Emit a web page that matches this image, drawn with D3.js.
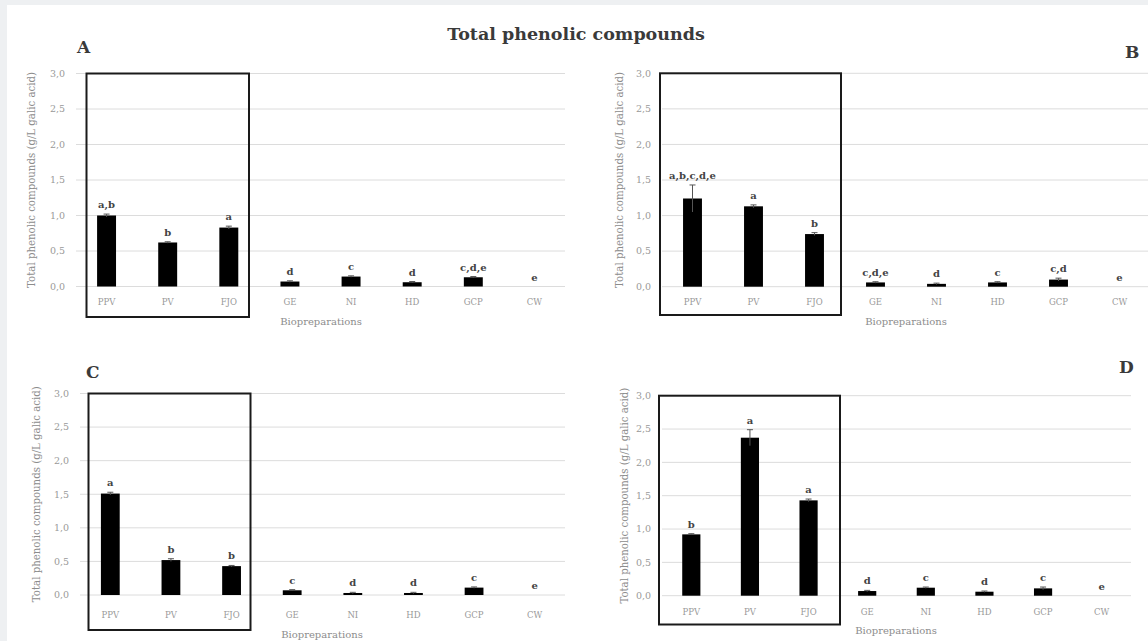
<!DOCTYPE html>
<html>
<head>
<meta charset="utf-8">
<script src="https://cdn.jsdelivr.net/npm/d3@7"></script>
<style>
  body { margin: 0; background: #eef0f2; }
  #chart { position: absolute; left: 0; top: 0; }
</style>
</head>
<body>
<div id="chart"></div>
<script>
const width = 1148
const height = 641

// data
const categories = ["PPV", "PV", "FJO", "GE", "NI", "HD", "GCP", "CW"]
const yTicks = [0, 0.5, 1, 1.5, 2, 2.5, 3]

const valuesA = [1.00, 0.62, 0.83, 0.07, 0.14, 0.06, 0.13, 0]
const errorsA = [0.02, 0.01, 0.02, 0.01, 0.01, 0.01, 0.01, 0]
const lettersA = ["a,b", "b", "a", "d", "c", "d", "c,d,e", "e"]

const valuesB = [1.24, 1.13, 0.74, 0.06, 0.04, 0.06, 0.10, 0]
const errorsB = [0.19, 0.02, 0.02, 0.01, 0.01, 0.01, 0.02, 0]
const lettersB = ["a,b,c,d,e", "a", "b", "c,d,e", "d", "c", "c,d", "e"]

const valuesC = [1.51, 0.52, 0.43, 0.07, 0.03, 0.03, 0.11, 0]
const errorsC = [0.02, 0.02, 0.01, 0.01, 0.01, 0.01, 0.01, 0]
const lettersC = ["a", "b", "b", "c", "d", "d", "c", "e"]

const valuesD = [0.92, 2.37, 1.43, 0.07, 0.12, 0.06, 0.11, 0]
const errorsD = [0.01, 0.12, 0.02, 0.01, 0.01, 0.01, 0.02, 0]
const lettersD = ["b", "a", "a", "d", "c", "d", "c", "e"]

const serif = "'DejaVu Serif', 'Liberation Serif', serif"

// layout of each panel (pixel positions only)
const panels = [
    { tag: "A", tagX: 77, tagY: 53, values: valuesA, errors: errorsA, letters: lettersA,
      x0: 76, x1: 565, yBottom: 286.5, yTop: 73.5, box: [86.5, 249, 317], catY: 302, bioX: 321, bioY: 321, titleX: 31 },
    { tag: "B", tagX: 1125, tagY: 58, values: valuesB, errors: errorsB, letters: lettersB,
      x0: 662, x1: 1150, yBottom: 286.7, yTop: 73.3, box: [660, 841, 315], catY: 302, bioX: 906, bioY: 321, titleX: 619 },
    { tag: "C", tagX: 86, tagY: 378, values: valuesC, errors: errorsC, letters: lettersC,
      x0: 80, x1: 565, yBottom: 595, yTop: 393.5, box: [88.5, 250.5, 630], catY: 615, bioX: 322, bioY: 634, titleX: 36 },
    { tag: "D", tagX: 1119, tagY: 373, values: valuesD, errors: errorsD, letters: lettersD,
      x0: 662, x1: 1131, yBottom: 595.7, yTop: 395.7, box: [659, 840, 624.5], catY: 612, bioX: 896, bioY: 630, titleX: 624 }
]

const svg = d3.select("#chart").append("svg")
    .attr("width", width)
    .attr("height", height)

// white card
svg.append("rect")
    .attr("x", 7).attr("y", 5)
    .attr("width", width - 7).attr("height", height - 5)
    .attr("fill", "white")

svg.append("text")
    .attr("x", 576).attr("y", 40)
    .attr("text-anchor", "middle")
    .attr("font-family", serif)
    .attr("font-weight", "bold")
    .attr("font-size", 17.5)
    .attr("fill", "#3a3a3a")
    .text("Total phenolic compounds")

panels.forEach(drawPanel)

function drawPanel(p) {
    const g = svg.append("g")

    const x = d3.scaleBand()
        .domain(categories)
        .range([p.x0, p.x1])
        .paddingInner(0.69)
        .paddingOuter(0.345)

    const y = d3.scaleLinear()
        .domain([0, 3])
        .range([p.yBottom, p.yTop])

    // gridlines
    g.selectAll(".grid")
        .data(yTicks)
        .join("line")
        .attr("class", "grid")
        .attr("x1", p.x0).attr("x2", p.x1)
        .attr("y1", d => y(d)).attr("y2", d => y(d))
        .attr("stroke", "#dcdcdc")
        .attr("stroke-width", 1)

    // tick labels
    g.selectAll(".tick")
        .data(yTicks)
        .join("text")
        .attr("class", "tick")
        .attr("x", p.x0 - 11)
        .attr("y", d => y(d))
        .attr("dy", "0.35em")
        .attr("text-anchor", "end")
        .attr("font-family", serif)
        .attr("font-size", 9.5)
        .attr("fill", "#999")
        .text(d => d3.format(".1f")(d).replace(".", ","))

    // bars
    g.selectAll(".bar")
        .data(categories)
        .join("rect")
        .attr("class", "bar")
        .attr("x", d => x(d))
        .attr("width", x.bandwidth())
        .attr("y", (d, i) => y(p.values[i]))
        .attr("height", (d, i) => y(0) - y(p.values[i]))
        .attr("fill", "black")

    // error bars
    const eb = g.selectAll(".err")
        .data(categories.filter((d, i) => p.values[i] > 0))
        .join("g")
        .attr("class", "err")
    const top = d => y(p.values[categories.indexOf(d)] + p.errors[categories.indexOf(d)])
    const low = d => y(p.values[categories.indexOf(d)] - p.errors[categories.indexOf(d)])
    eb.append("line")
        .attr("x1", d => x(d) + x.bandwidth() / 2)
        .attr("x2", d => x(d) + x.bandwidth() / 2)
        .attr("y1", low)
        .attr("y2", top)
        .attr("stroke", "#555")
    eb.append("line")
        .attr("x1", d => x(d) + x.bandwidth() / 2 - 3)
        .attr("x2", d => x(d) + x.bandwidth() / 2 + 3)
        .attr("y1", top)
        .attr("y2", top)
        .attr("stroke", "#555")

    // significance letters
    g.selectAll(".letter")
        .data(categories)
        .join("text")
        .attr("class", "letter")
        .attr("x", d => x(d) + x.bandwidth() / 2)
        .attr("y", (d, i) => y(p.values[i] + p.errors[i]) - 6)
        .attr("text-anchor", "middle")
        .attr("font-family", serif)
        .attr("font-weight", "bold")
        .attr("font-size", 10)
        .attr("fill", "#444")
        .text((d, i) => p.letters[i])

    // category labels
    g.selectAll(".cat")
        .data(categories)
        .join("text")
        .attr("class", "cat")
        .attr("x", d => x(d) + x.bandwidth() / 2)
        .attr("y", p.catY)
        .attr("dy", "0.35em")
        .attr("text-anchor", "middle")
        .attr("font-family", serif)
        .attr("font-size", 8.5)
        .attr("fill", "#999")
        .text(d => d)

    g.append("text")
        .attr("x", p.bioX).attr("y", p.bioY)
        .attr("dy", "0.35em")
        .attr("text-anchor", "middle")
        .attr("font-family", serif)
        .attr("font-size", 10)
        .attr("fill", "#8c8c8c")
        .text("Biopreparations")

    g.append("text")
        .attr("transform", `translate(${p.titleX}, ${(p.yBottom + p.yTop) / 2}) rotate(-90)`)
        .attr("dy", "0.35em")
        .attr("text-anchor", "middle")
        .attr("font-family", serif)
        .attr("font-size", 10.2)
        .attr("fill", "#8c8c8c")
        .text("Total phenolic compounds (g/L galic acid)")

    // box round the first three biopreparations
    g.append("rect")
        .attr("x", p.box[0])
        .attr("y", y(3))
        .attr("width", p.box[1] - p.box[0])
        .attr("height", p.box[2] - y(3))
        .attr("fill", "none")
        .attr("stroke", "#1a1a1a")
        .attr("stroke-width", 2)

    g.append("text")
        .attr("x", p.tagX).attr("y", p.tagY)
        .attr("font-family", serif)
        .attr("font-weight", "bold")
        .attr("font-size", 17)
        .attr("fill", "#3a3a3a")
        .text(p.tag)
}
</script>
</body>
</html>
